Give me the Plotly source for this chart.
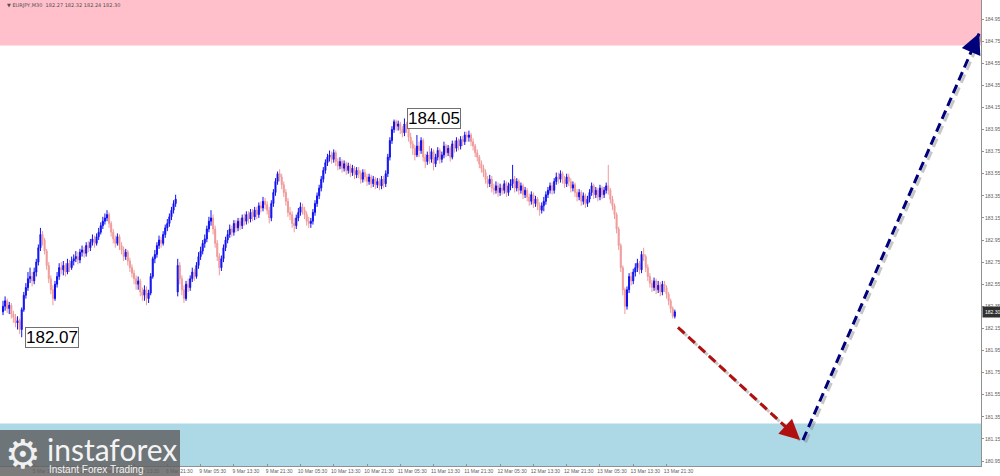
import plotly.graph_objects as go
import pandas as pd

# ---------------- data ----------------
symbol = "EURJPY,M30"
header_quote = ["182.27", "182.32", "182.24", "182.30"]

first_open = 182.30
monday_open = 182.48

closes = [
    182.35, 182.40, 182.33, 182.36, 182.28, 182.25, 182.20, 182.22, 182.14, 182.32,
    182.45, 182.52, 182.60, 182.62, 182.58, 182.66, 182.75, 182.88, 183.00, 182.95,
    182.85, 182.72, 182.60, 182.50, 182.42, 182.55, 182.62, 182.70, 182.68, 182.72,
    182.66, 182.74, 182.70, 182.76, 182.78, 182.80, 182.77, 182.84, 182.86, 182.83,
    182.90, 182.88, 182.93, 182.96, 182.92, 182.98, 183.02, 183.08, 183.12, 183.15,
    183.18, 183.10, 183.02, 182.96, 182.92, 182.98, 182.90, 182.86, 182.80, 182.84,
    182.76, 182.70, 182.65, 182.60, 182.55, 182.58, 182.48, 182.45, 182.50, 182.42,
    182.47, 182.62, 182.78, 182.82, 182.90, 182.95, 182.92, 183.00, 183.06, 183.10,
    183.16, 183.22, 183.28, 183.32,
    182.72, 182.60, 182.50, 182.42, 182.55, 182.52,
    182.60, 182.66, 182.62, 182.72, 182.80, 182.85, 182.92, 182.96, 183.05, 183.12,
    183.15, 183.05, 182.92, 182.80, 182.70, 182.78, 182.88, 182.95, 183.00, 183.05,
    183.02, 183.10, 183.06, 183.12, 183.08, 183.15, 183.12, 183.18, 183.14, 183.20,
    183.16, 183.22, 183.18, 183.26, 183.24, 183.30, 183.27, 183.22, 183.15, 183.28,
    183.38, 183.48, 183.55, 183.52, 183.45, 183.38, 183.30, 183.20, 183.18, 183.10,
    183.08, 183.15, 183.20, 183.25, 183.22, 183.18, 183.12, 183.10, 183.12, 183.20,
    183.28, 183.35, 183.42, 183.50, 183.58, 183.65, 183.70, 183.72, 183.68, 183.74,
    183.66, 183.62, 183.66, 183.60, 183.64, 183.58, 183.62, 183.56, 183.60, 183.54,
    183.58, 183.55, 183.50, 183.56, 183.52, 183.48, 183.52, 183.46, 183.50, 183.45,
    183.48, 183.44, 183.50, 183.46, 183.55, 183.70, 183.85, 183.95, 184.02, 183.98,
    184.00, 183.95, 183.92, 184.00, 183.96, 183.88, 183.82, 183.78, 183.72, 183.80,
    183.76, 183.85, 183.70, 183.66, 183.72, 183.68, 183.75, 183.64, 183.70, 183.76,
    183.68, 183.72, 183.80, 183.74, 183.78, 183.70, 183.82, 183.78, 183.85, 183.80,
    183.86, 183.84, 183.90, 183.88, 183.90, 183.84, 183.80, 183.74, 183.70, 183.64,
    183.60, 183.56, 183.50, 183.46, 183.50, 183.42, 183.40, 183.44, 183.38, 183.42,
    183.40, 183.46, 183.38, 183.44, 183.46, 183.50, 183.42, 183.48, 183.40, 183.44,
    183.36, 183.40, 183.34, 183.30, 183.36, 183.28, 183.32, 183.26, 183.22, 183.26,
    183.30, 183.36, 183.40, 183.44, 183.40, 183.48, 183.52, 183.50, 183.55, 183.50,
    183.46, 183.52, 183.48, 183.42, 183.45, 183.38, 183.34, 183.38, 183.30, 183.35,
    183.28, 183.32, 183.38, 183.44, 183.36, 183.40, 183.34, 183.42, 183.36, 183.40,
    183.44, 183.40, 183.32, 183.26, 183.18, 183.05, 182.90, 182.70, 182.50, 182.35,
    182.50, 182.62, 182.58, 182.66, 182.70, 182.74, 182.68, 182.82, 182.80, 182.70,
    182.62, 182.56, 182.52, 182.58, 182.50, 182.54, 182.48, 182.55, 182.52, 182.46,
    182.40, 182.33, 182.26, 182.30,
]

highs = [
    182.40, 182.44, 182.42, 182.39, 182.38, 182.31, 182.28, 182.26, 182.24, 182.34,
    182.48, 182.56, 182.66, 182.70, 182.66, 182.70, 182.78, 182.91, 183.06, 183.03,
    182.97, 182.87, 182.75, 182.63, 182.54, 182.58, 182.66, 182.74, 182.75, 182.76,
    182.74, 182.78, 182.77, 182.80, 182.82, 182.85, 182.84, 182.87, 182.90, 182.89,
    182.93, 182.94, 182.96, 183.00, 182.99, 183.01, 183.06, 183.11, 183.16, 183.19,
    183.22, 183.20, 183.12, 183.05, 182.99, 183.01, 183.00, 182.93, 182.89, 182.87,
    182.86, 182.79, 182.73, 182.68, 182.63, 182.62, 182.60, 182.52, 182.54, 182.53,
    182.50, 182.65, 182.80, 182.86, 182.93, 182.99, 182.98, 183.03, 183.09, 183.14,
    183.19, 183.25, 183.31, 183.36,
    182.78, 182.75, 182.63, 182.54, 182.58, 182.60,
    182.63, 182.70, 182.69, 182.75, 182.84, 182.89, 182.95, 183.00, 183.08, 183.16,
    183.22, 183.18, 183.08, 182.95, 182.83, 182.81, 182.91, 182.98, 183.04, 183.09,
    183.08, 183.13, 183.13, 183.15, 183.15, 183.18, 183.19, 183.21, 183.21, 183.23,
    183.23, 183.25, 183.25, 183.29, 183.30, 183.34, 183.33, 183.30, 183.25, 183.31,
    183.41, 183.51, 183.57, 183.59, 183.55, 183.48, 183.41, 183.33, 183.25, 183.21,
    183.15, 183.18, 183.24, 183.29, 183.28, 183.25, 183.21, 183.16, 183.15, 183.23,
    183.31, 183.38, 183.45, 183.53, 183.61, 183.68, 183.73, 183.76, 183.75, 183.77,
    183.76, 183.69, 183.70, 183.68, 183.67, 183.66, 183.65, 183.64, 183.63, 183.62,
    183.61, 183.61, 183.58, 183.59, 183.59, 183.55, 183.55, 183.54, 183.53, 183.52,
    183.51, 183.51, 183.53, 183.53, 183.58, 183.73, 183.88, 183.98, 184.04, 184.04,
    184.03, 184.02, 183.98, 184.05, 184.02, 183.98, 183.92, 183.85, 183.81, 183.90,
    183.84, 183.88, 183.87, 183.73, 183.75, 183.80, 183.78, 183.77, 183.73, 183.79,
    183.78, 183.75, 183.84, 183.82, 183.81, 183.80, 183.85, 183.85, 183.88, 183.87,
    183.89, 183.89, 183.93, 183.93, 183.94, 183.92, 183.87, 183.82, 183.77, 183.72,
    183.67, 183.63, 183.59, 183.53, 183.54, 183.53, 183.46, 183.48, 183.47, 183.46,
    183.45, 183.49, 183.48, 183.47, 183.50, 183.63, 183.53, 183.51, 183.50, 183.47,
    183.46, 183.43, 183.42, 183.37, 183.39, 183.38, 183.35, 183.34, 183.29, 183.29,
    183.34, 183.39, 183.43, 183.47, 183.47, 183.51, 183.56, 183.56, 183.58, 183.57,
    183.53, 183.55, 183.55, 183.51, 183.48, 183.47, 183.41, 183.41, 183.40, 183.38,
    183.37, 183.35, 183.41, 183.47, 183.46, 183.43, 183.42, 183.45, 183.44, 183.43,
    183.47, 183.63, 183.42, 183.35, 183.28, 183.20, 183.07, 182.92, 182.72, 182.52,
    182.53, 182.65, 182.66, 182.69, 182.74, 182.78, 182.76, 182.85, 182.88, 182.82,
    182.73, 182.65, 182.59, 182.61, 182.60, 182.58, 182.57, 182.58, 182.58, 182.54,
    182.48, 182.42, 182.35, 182.32,
]

lows = [
    182.27, 182.31, 182.29, 182.28, 182.24, 182.20, 182.16, 182.14, 182.10, 182.07,
    182.30, 182.42, 182.49, 182.56, 182.53, 182.55, 182.62, 182.72, 182.85, 182.90,
    182.82, 182.68, 182.56, 182.46, 182.36, 182.40, 182.52, 182.59, 182.64, 182.63,
    182.62, 182.64, 182.66, 182.68, 182.72, 182.75, 182.73, 182.74, 182.80, 182.79,
    182.80, 182.84, 182.85, 182.90, 182.88, 182.90, 182.95, 183.00, 183.05, 183.09,
    183.12, 183.06, 182.98, 182.92, 182.88, 182.90, 182.86, 182.82, 182.76, 182.77,
    182.72, 182.66, 182.61, 182.55, 182.50, 182.50, 182.44, 182.40, 182.40, 182.36,
    182.38, 182.45, 182.60, 182.74, 182.79, 182.87, 182.88, 182.90, 182.97, 183.03,
    183.07, 183.13, 183.19, 183.25,
    182.44, 182.55, 182.45, 182.38, 182.40, 182.48,
    182.49, 182.57, 182.58, 182.60, 182.69, 182.77, 182.82, 182.88, 182.93, 183.02,
    183.08, 183.00, 182.88, 182.76, 182.63, 182.67, 182.75, 182.85, 182.92, 182.97,
    182.98, 182.99, 183.02, 183.03, 183.04, 183.05, 183.08, 183.09, 183.10, 183.11,
    183.12, 183.13, 183.14, 183.15, 183.20, 183.21, 183.23, 183.18, 183.10, 183.12,
    183.25, 183.35, 183.45, 183.48, 183.41, 183.34, 183.26, 183.16, 183.13, 183.06,
    183.02, 183.05, 183.12, 183.17, 183.18, 183.14, 183.08, 183.06, 183.06, 183.09,
    183.17, 183.25, 183.32, 183.39, 183.47, 183.55, 183.62, 183.66, 183.64, 183.65,
    183.62, 183.58, 183.59, 183.56, 183.57, 183.54, 183.55, 183.52, 183.53, 183.50,
    183.51, 183.51, 183.46, 183.47, 183.48, 183.44, 183.45, 183.42, 183.43, 183.41,
    183.42, 183.40, 183.41, 183.42, 183.43, 183.52, 183.67, 183.82, 183.92, 183.94,
    183.94, 183.91, 183.88, 183.89, 183.92, 183.84, 183.78, 183.72, 183.67, 183.70,
    183.70, 183.73, 183.66, 183.60, 183.63, 183.64, 183.65, 183.58, 183.61, 183.67,
    183.64, 183.65, 183.69, 183.70, 183.71, 183.66, 183.68, 183.74, 183.75, 183.76,
    183.77, 183.80, 183.81, 183.84, 183.84, 183.80, 183.76, 183.70, 183.66, 183.60,
    183.56, 183.52, 183.46, 183.42, 183.43, 183.38, 183.36, 183.37, 183.34, 183.35,
    183.36, 183.37, 183.34, 183.35, 183.40, 183.42, 183.38, 183.39, 183.36, 183.37,
    183.32, 183.33, 183.30, 183.26, 183.27, 183.24, 183.25, 183.22, 183.17, 183.19,
    183.21, 183.27, 183.33, 183.37, 183.36, 183.37, 183.45, 183.46, 183.47, 183.46,
    183.42, 183.43, 183.44, 183.38, 183.39, 183.34, 183.30, 183.31, 183.26, 183.27,
    183.24, 183.25, 183.29, 183.35, 183.32, 183.33, 183.30, 183.31, 183.32, 183.33,
    183.37, 183.36, 183.28, 183.22, 183.14, 183.01, 182.86, 182.66, 182.45, 182.28,
    182.32, 182.47, 182.54, 182.55, 182.62, 182.66, 182.64, 182.65, 182.76, 182.66,
    182.58, 182.52, 182.48, 182.49, 182.46, 182.47, 182.44, 182.45, 182.48, 182.42,
    182.36, 182.29, 182.24, 182.24,
]

# bar times (M30, weekend skipped)
times = (list(pd.date_range("2026-03-05 06:00", periods=84, freq="30min"))
         + list(pd.date_range("2026-03-09 00:00", "2026-03-13 23:30", freq="30min")))
label_hours = ["05:30", "13:30", "21:30"]

# target zones and forecast path (bar index, price)
sell_zone = [184.71, 185.30]
buy_zone = [180.80, 181.29]
down_leg_x = [324.5, 383.2]
down_leg_y = [182.16, 181.14]
up_leg_x = [384.6, 469.3]
up_leg_y = [181.14, 184.82]

# ---------------- build ----------------
opens = [first_open] + closes[:-1]
opens[84] = monday_open
x = list(range(len(closes)))

tickvals, ticktext = [], []
for i, t in enumerate(times):
    if t.strftime("%H:%M") in label_hours:
        tickvals.append(i)
        ticktext.append(f"{t.day} Mar {t.strftime('%H:%M')}")

PXX = 2.08   # px per bar
PXY = 110.5  # px per price unit

fig = go.Figure()

fig.add_trace(go.Candlestick(
    x=x, open=opens, high=highs, low=lows, close=closes,
    increasing=dict(line=dict(color="#1010F0", width=1), fillcolor="#1010F0"),
    decreasing=dict(line=dict(color="#F09A9A", width=1), fillcolor="#F09A9A"),
    whiskerwidth=0, hoverinfo="skip", showlegend=False,
))

def add_leg(xs, ys, color):
    # shadow
    fig.add_trace(go.Scatter(
        x=[v + 1.2 for v in xs], y=[v - 0.022 for v in ys], mode="lines",
        line=dict(color="rgba(130,130,130,0.45)", width=3, dash="9px,5px"),
        hoverinfo="skip", showlegend=False))
    fig.add_trace(go.Scatter(
        x=xs, y=ys, mode="lines",
        line=dict(color=color, width=3, dash="9px,5px"),
        hoverinfo="skip", showlegend=False))
    dxp = (xs[1] - xs[0]) * PXX
    dyp = (ys[1] - ys[0]) * PXY
    L = (dxp ** 2 + dyp ** 2) ** 0.5
    f = 8.0 / L
    fig.add_annotation(
        x=xs[1], y=ys[1], ax=xs[1] - f * (xs[1] - xs[0]), ay=ys[1] - f * (ys[1] - ys[0]),
        xref="x", yref="y", axref="x", ayref="y", text="", showarrow=True,
        arrowhead=2, arrowsize=1.35, arrowwidth=3, arrowcolor=color)

add_leg(down_leg_x, down_leg_y, "#B01010")
add_leg(up_leg_x, up_leg_y, "#00007A")

# zones
fig.add_shape(type="rect", xref="paper", x0=0, x1=1, yref="y", y0=sell_zone[0], y1=sell_zone[1],
              fillcolor="#FFC0CB", line=dict(width=0), layer="below")
fig.add_shape(type="rect", xref="paper", x0=0, x1=1, yref="y", y0=buy_zone[0], y1=buy_zone[1],
              fillcolor="#ADD8E6", line=dict(width=0), layer="below")

# extreme labels
imax = highs.index(max(highs))
imin = lows.index(min(lows))
for idx, val in [(imax, max(highs)), (imin, min(lows))]:
    fig.add_annotation(x=idx, y=val, xref="x", yref="y", text=f"{val:.2f}", showarrow=False,
                       xanchor="left", yanchor="middle", xshift=3,
                       font=dict(family="Liberation Sans, Arial", size=17, color="black"),
                       bgcolor="white", bordercolor="#707070", borderwidth=1, borderpad=0)

# current price box on the axis
fig.add_annotation(x=1, y=closes[-1], xref="paper", yref="y", text=f"{closes[-1]:.2f}",
                   showarrow=False, xanchor="left", yanchor="middle", xshift=1,
                   font=dict(family="Liberation Sans, Arial", size=5, color="white"),
                   bgcolor="#303030", borderpad=2)

# header
fig.add_annotation(x=0.005, y=0.989, xref="paper", yref="paper",
                   text="\u25BC " + symbol + "  " + " ".join(header_quote),
                   showarrow=False, xanchor="left", yanchor="middle",
                   font=dict(family="DejaVu Sans", size=5, color="#505050"))

# watermark logo
fig.add_shape(type="rect", xref="paper", yref="paper", x0=0, x1=180 / 981,
              y0=-10 / 466, y1=36 / 466, fillcolor="rgba(95,95,95,0.82)",
              line=dict(width=0), layer="above")
fig.add_annotation(x=23 / 981, y=12 / 466, xref="paper", yref="paper", text="\u2699",
                   showarrow=False, xanchor="center", yanchor="middle",
                   font=dict(family="DejaVu Sans", size=40, color="#F0F0F0"))
fig.add_annotation(x=45 / 981, y=17 / 466, xref="paper", yref="paper", text="instaforex",
                   showarrow=False, xanchor="left", yanchor="middle",
                   font=dict(family="Lato", size=30, color="#F4F4F4"))
fig.add_annotation(x=47 / 981, y=-3 / 466, xref="paper", yref="paper", text="Instant Forex Trading",
                   showarrow=False, xanchor="left", yanchor="middle",
                   font=dict(family="Liberation Sans, Arial", size=10, color="#F4F4F4"))

fig.update_layout(
    width=1000, height=476,
    margin=dict(l=0, r=19, t=0, b=10, pad=0),
    paper_bgcolor="white", plot_bgcolor="white",
    showlegend=False,
    xaxis=dict(range=[-3 / PXX, 978 / PXX], tickvals=tickvals, ticktext=ticktext,
               showgrid=False, zeroline=False, showline=True, linecolor="#909090", linewidth=1,
               ticks="inside", ticklen=2, tickcolor="#909090",
               ticklabelshift=12,
               tickfont=dict(family="Liberation Sans, Arial", size=5, color="#606060"),
               rangeslider=dict(visible=False), automargin=False, fixedrange=True),
    yaxis=dict(range=[180.905, 185.122], side="right", tick0=180.95, dtick=0.2, tickformat=".2f",
               showgrid=False, zeroline=False, showline=True, linecolor="#909090", linewidth=1,
               ticks="outside", ticklen=2, tickcolor="#909090",
               tickfont=dict(family="Liberation Sans, Arial", size=5, color="#606060"),
               automargin=False, fixedrange=True),
)

fig.write_html("out.html", config={"displayModeBar": False},
               post_script="document.body.style.margin='0';")
